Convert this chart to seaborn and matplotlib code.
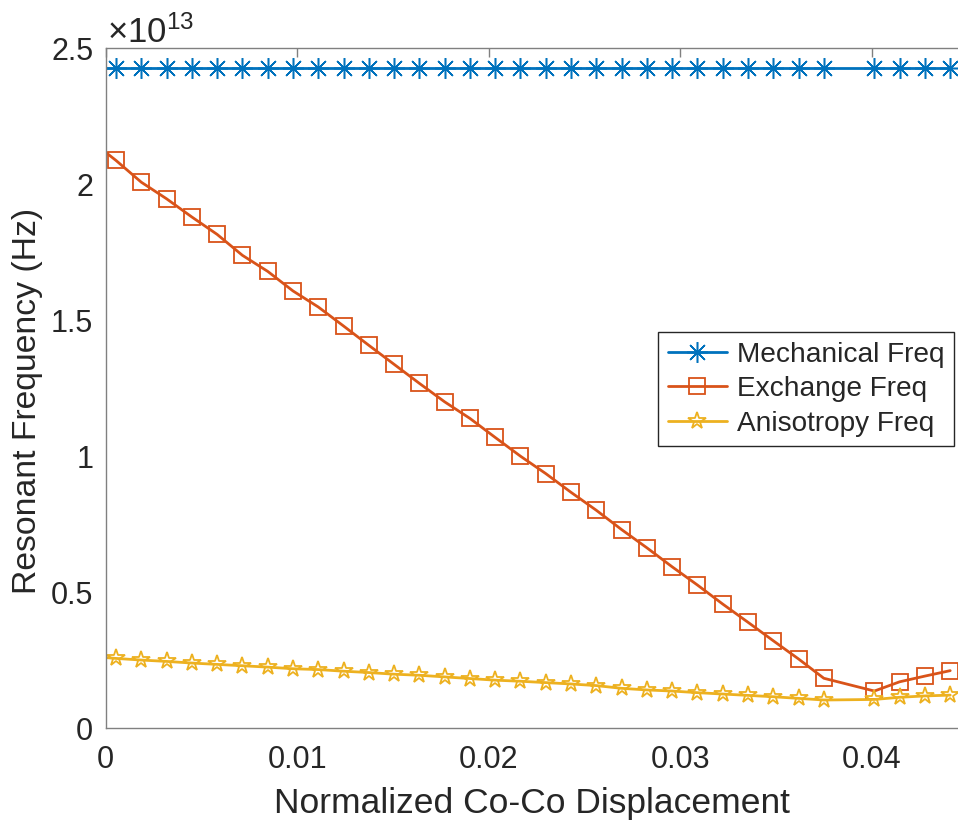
import matplotlib
matplotlib.use("Agg")
import matplotlib.pyplot as plt
from matplotlib.lines import Line2D
from matplotlib.ticker import FuncFormatter, FixedLocator
import pandas as pd
import seaborn as sns

# ---- data (frequencies in units of 1e13 Hz) ----
x_disp = [0.0, 0.00054, 0.00186, 0.00318, 0.00450, 0.00582, 0.00714, 0.00846,
          0.00978, 0.01110, 0.01242, 0.01374, 0.01506, 0.01638, 0.01770,
          0.01902, 0.02034, 0.02166, 0.02298, 0.02430, 0.02562, 0.02694,
          0.02826, 0.02958, 0.03090, 0.03222, 0.03354, 0.03486, 0.03618,
          0.03750, 0.04014, 0.04146, 0.04278, 0.04410]
mech_freq = [2.43, 2.43, 2.43, 2.43, 2.43, 2.43, 2.43, 2.43, 2.43, 2.43,
             2.43, 2.43, 2.43, 2.43, 2.43, 2.43, 2.43, 2.43, 2.43, 2.43,
             2.43, 2.43, 2.43, 2.43, 2.43, 2.43, 2.43, 2.43, 2.43, 2.43,
             2.43, 2.43, 2.43, 2.43]
exch_freq = [2.118, 2.088, 2.008, 1.947, 1.880, 1.816, 1.739, 1.680, 1.608,
             1.549, 1.479, 1.408, 1.338, 1.268, 1.200, 1.139, 1.069, 1.000,
             0.936, 0.867, 0.801, 0.730, 0.663, 0.593, 0.526, 0.456, 0.389,
             0.321, 0.254, 0.183, 0.136, 0.170, 0.191, 0.211]
anis_freq = [0.259, 0.256, 0.250, 0.245, 0.239, 0.234, 0.229, 0.224, 0.218,
             0.215, 0.209, 0.204, 0.198, 0.194, 0.188, 0.182, 0.176, 0.172,
             0.167, 0.162, 0.156, 0.146, 0.140, 0.136, 0.130, 0.125, 0.120,
             0.115, 0.109, 0.103, 0.105, 0.113, 0.118, 0.121]
series_names = ["Mechanical Freq", "Exchange Freq", "Anisotropy Freq"]
x_ticks = [0, 0.01, 0.02, 0.03, 0.04]
y_ticks = [0, 0.5, 1, 1.5, 2, 2.5]
SCALE_EXP = 13

df = pd.DataFrame({"x": x_disp, "mech": mech_freq, "exch": exch_freq,
                   "anis": anis_freq})

sns.set_theme(style="white")
plt.rcParams["font.family"] = ["Liberation Sans", "DejaVu Sans"]
plt.rcParams["mathtext.fontset"] = "custom"
plt.rcParams["mathtext.rm"] = "Liberation Sans"
plt.rcParams["mathtext.it"] = "Liberation Sans"

fig = plt.figure(figsize=(9.58, 8.21), dpi=100)
W, H = 958, 821
ax = fig.add_axes([105.7 / W, 1 - 728 / H, (958 - 105.7) / W, (728 - 48.5) / H])

colors = ["#0072BD", "#D95319", "#EDB120"]
markers = [(8, 2, 0), "s", "*"]
msizes = [15, 11.3, 13]
mews = [1.1, 1.3, 1.3]
cols = ["mech", "exch", "anis"]
handles = []
for col, c, m, ms, mw, name in zip(cols, colors, markers, msizes, mews,
                                   series_names):
    sns.lineplot(data=df, x="x", y=col, ax=ax, color=c, linewidth=2.0,
                 marker=m, markersize=ms, markevery=slice(1, None),
                 markerfacecolor="none", markeredgecolor=c,
                 markeredgewidth=mw, errorbar=None, legend=False)
    handles.append(Line2D([], [], color=c, linewidth=2.0, marker=m,
                          markersize=ms, markerfacecolor="none",
                          markeredgecolor=c, markeredgewidth=mw))

ax.set_xlim(0, (958 - 105.7) / 19150)
ax.set_ylim(0, 2.5)
ax.xaxis.set_major_locator(FixedLocator(x_ticks))
ax.yaxis.set_major_locator(FixedLocator(y_ticks))
ax.xaxis.set_major_formatter(FuncFormatter(lambda v, p: f"{v:g}"))
ax.yaxis.set_major_formatter(FuncFormatter(lambda v, p: f"{v:g}"))

spine_col = "#808080"
for s in ["left", "bottom", "top"]:
    ax.spines[s].set_color(spine_col)
    ax.spines[s].set_linewidth(1.0)
ax.spines["right"].set_visible(False)
ax.tick_params(axis="both", direction="in", length=6.5, width=1.0,
               color=spine_col, labelsize=22, labelcolor="#262626")
ax.tick_params(axis="x", top=True, pad=12)
ax.tick_params(axis="y", pad=9)

ax.set_xlabel("Normalized Co-Co Displacement", fontsize=25.5, color="#262626",
              labelpad=9)
ax.set_ylabel("Resonant Frequency (Hz)", fontsize=24.3, color="#262626")
ax.yaxis.set_label_coords(-0.0736, 0.481)

ax.text(0.001, (728 - 43) / (728 - 48.5), r"$\times10^{%d}$" % SCALE_EXP,
        transform=ax.transAxes, ha="left", va="baseline", fontsize=25,
        color="#262626")

leg = ax.legend(handles, series_names, loc="upper left",
                bbox_to_anchor=(658 / W, 1 - 332 / H),
                bbox_transform=fig.transFigure, borderaxespad=0,
                fontsize=20.2, frameon=True, fancybox=False, framealpha=1,
                edgecolor="#262626", handlelength=2.1, handletextpad=0.35,
                labelspacing=0.3, borderpad=0.35)
leg.get_frame().set_linewidth(1.0)

fig.savefig("out.png", dpi=100)
